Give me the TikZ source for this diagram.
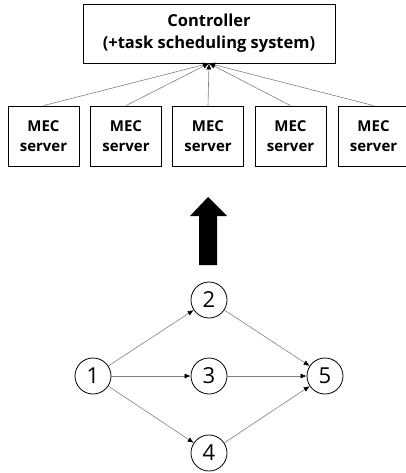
\documentclass[tikz,border=0pt]{standalone}
\usepackage{fontspec}
\setmainfont{Open Sans}
\usetikzlibrary{arrows.meta}

\begin{document}
\begin{tikzpicture}[x=1pt, y=-1pt,
  box/.style={draw, line width=0.8pt, minimum width=71pt, minimum height=60pt, align=center, font=\bfseries\fontsize{15}{20}\selectfont},
  vertex/.style={draw, circle, line width=0.8pt, minimum size=36pt, inner sep=0pt, font=\fontsize{22}{22}\selectfont},
  link/.style={draw=gray, line width=0.6pt, -{Latex[length=6pt, width=5pt, color=black]}}]
\useasboundingbox (0,0) rectangle (405,473);
\node[box, minimum width=252pt, minimum height=59pt, font=\bfseries\fontsize{16.5}{22}\selectfont] (ctrl) at (209, 33.5) {Controller\\(+task scheduling system)};
\node[box] (mec1) at (43.5, 136) {MEC\\server};
\node[box] (mec2) at (126, 136) {MEC\\server};
\node[box] (mec3) at (208, 136) {MEC\\server};
\node[box] (mec4) at (290.5, 136) {MEC\\server};
\node[box] (mec5) at (373.5, 136) {MEC\\server};
\foreach \i in {1,...,5}
  \draw[link] (mec\i.north) -- (ctrl.south);
\fill (199, 265) -- (199, 216) -- (190, 216) -- (208, 197) -- (227, 216) -- (217, 216) -- (217, 265) -- cycle;
\node[vertex] (n1) at (93, 376) {1};
\node[vertex] (n2) at (209, 300) {2};
\node[vertex] (n3) at (209, 376) {3};
\node[vertex] (n4) at (209, 453) {4};
\node[vertex] (n5) at (325, 376) {5};
\draw[link] (n1) -- (n2);
\draw[link] (n1) -- (n3);
\draw[link] (n1) -- (n4);
\draw[link] (n2) -- (n5);
\draw[link] (n3) -- (n5);
\draw[link] (n4) -- (n5);
\end{tikzpicture}
\end{document}
